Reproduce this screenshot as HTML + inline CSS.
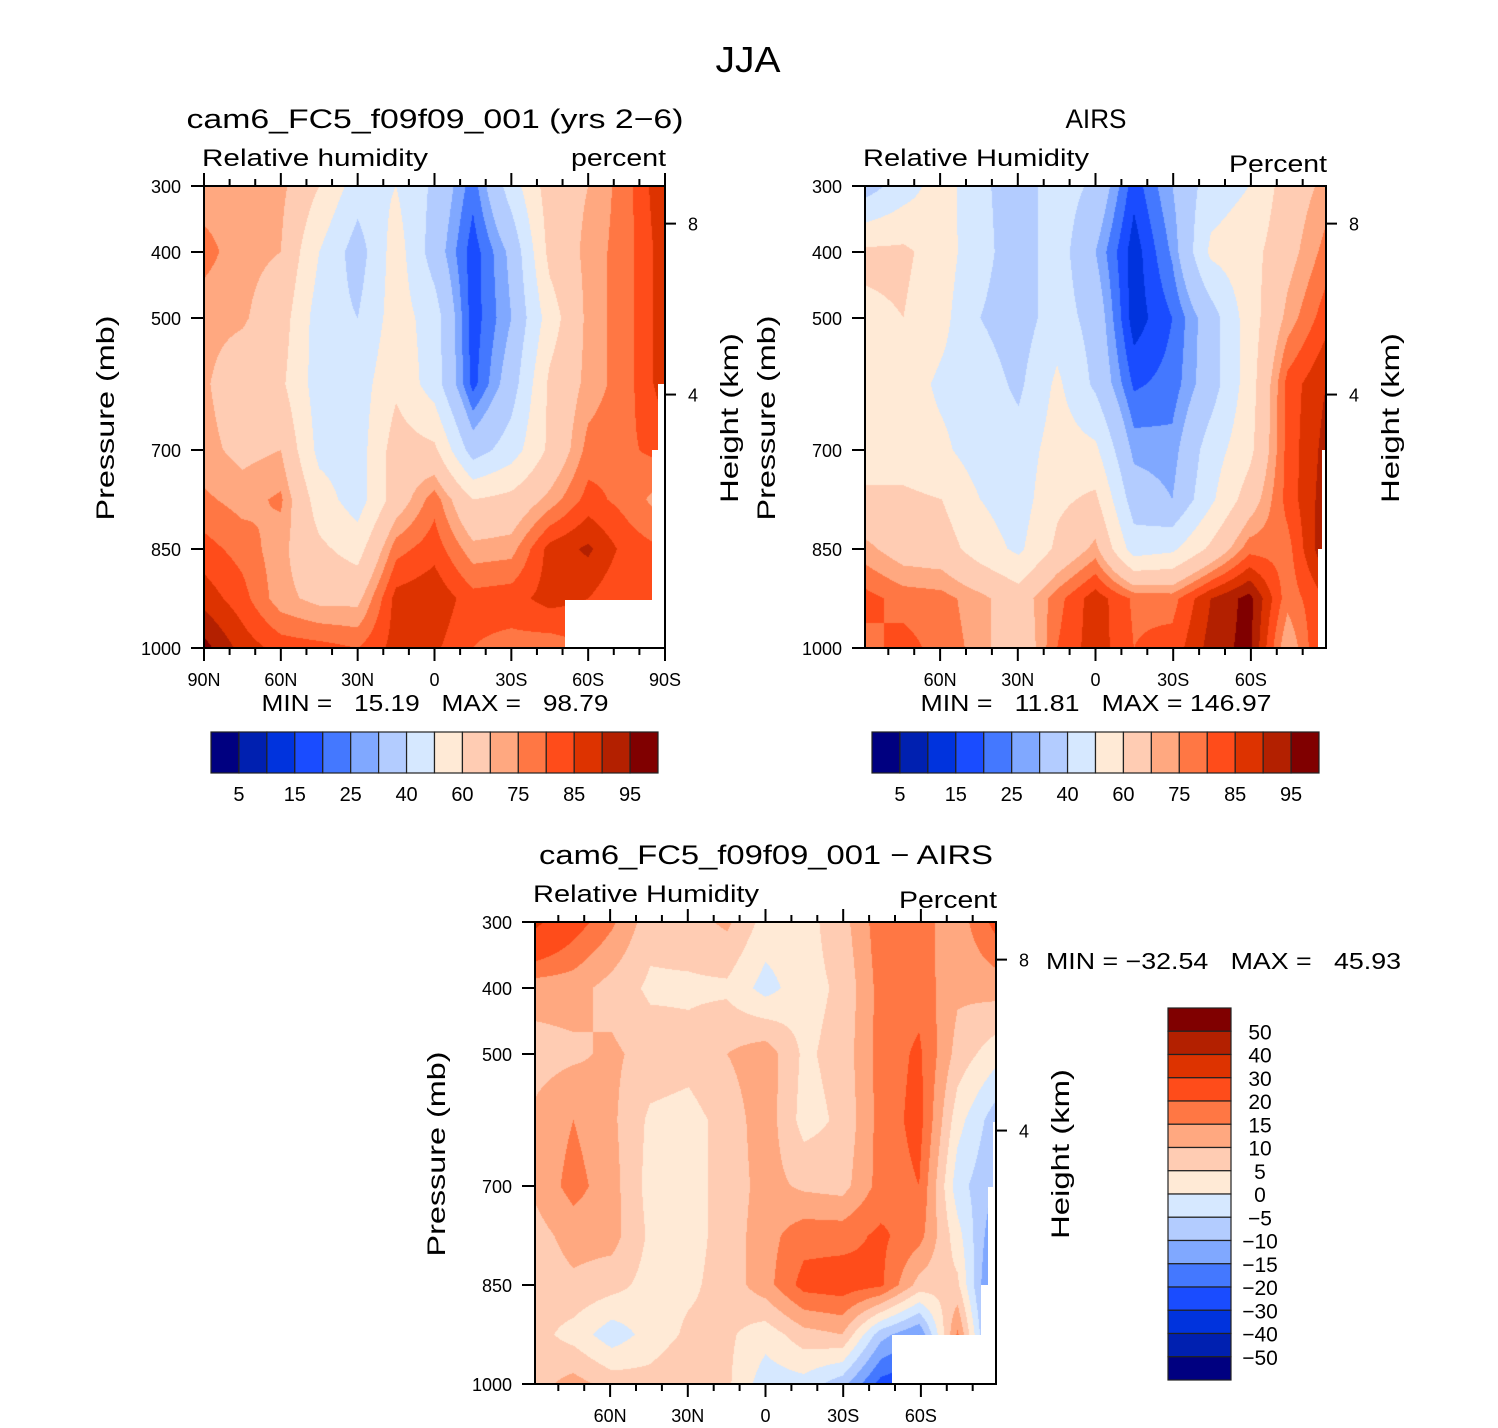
<!DOCTYPE html>
<html><head><meta charset="utf-8">
<style>
html,body{margin:0;padding:0;background:#fff;}
#root{position:relative;width:1498px;height:1428px;overflow:hidden;background:#fff;font-family:"Liberation Sans",sans-serif;}
canvas{position:absolute;}
svg{position:absolute;left:0;top:0;}
text{font-family:"Liberation Sans",sans-serif;fill:#000;white-space:pre;}
</style></head>
<body>
<div id="root">
<canvas id="c1" width="461" height="462" style="left:204px;top:186px"></canvas>
<canvas id="c2" width="461" height="462" style="left:865px;top:186px"></canvas>
<canvas id="c3" width="461" height="462" style="left:535px;top:922px"></canvas>
<svg id="svg" width="1498" height="1428" xmlns="http://www.w3.org/2000/svg"></svg>
</div>
<script>
// ---- data ----
const LATS = [90,75,60,45,30,15,0,-15,-30,-45,-60,-75,-90];
const PRESS = [300,400,500,600,700,775,850,925,1000];
const COLORS = ['#000080','#0020B0','#0033DD','#1A4CFF','#4478FF','#80A8FF','#B3CCFF','#D6E8FF','#FFEAD6','#FFCCB3','#FFA880','#FF7744','#FF4C1A','#DD3300','#B32000','#800000'];
const RH_LEVELS = [5,10,15,20,25,30,40,50,60,70,75,80,85,90,95];
const DIFF_LEVELS = [-50,-40,-30,-20,-15,-10,-5,0,5,10,15,20,30,40,50];
const RH_LABELS = ['5','15','25','40','60','75','85','95'];
const DIFF_LABELS = ['50','40','30','20','15','10','5','0','\u22125','\u221210','\u221215','\u221220','\u221230','\u221240','\u221250'];
const PRESS_TICKS = [300,400,500,700,850,1000];
const HEIGHT_TICKS = [8,4];
const HEIGHT_TICK_PRESS = [357,616];
const rhModel = [
 [72,73,72,60,45,50,38,22,45,65,70,78,90],
 [77,72,70,50,35,55,35,17,32,63,72,78,88],
 [72,71,65,45,40,55,45,17,30,55,72,78,88],
 [71,65,62,45,45,58,45,18,35,62,72,78,88],
 [72,68,70,47,45,65,62,35,45,62,77,79,82],
 [76,73,76,55,45,65,78,60,63,72,82,78,72],
 [82,78,72,62,56,78,83,72,73,87,91,83,80],
 [88,82,72,68,68,87,89,82,83,87,85,80,80],
 [97,88,83,82,80,87,86,80,78,77,80,80,80]];
const rhAirs = [
 [35,45,55,42,35,45,38,17,30,45,50,65,72],
 [62,62,55,43,35,45,30,12,26,52,56,67,77],
 [58,60,53,40,35,45,36,12,20,35,55,72,83],
 [55,55,48,45,38,52,38,19,22,35,55,82,90],
 [55,55,52,45,44,55,52,28,27,45,57,82,92],
 [62,62,60,50,45,58,62,35,30,48,65,82,93],
 [72,66,65,55,48,62,72,45,48,62,78,78,95],
 [82,78,77,72,65,78,88,79,78,90,97,77,85],
 [78,82,78,73,62,80,88,80,82,92,97,70,88]];
const rhDiff = [
 [32,23,16,7,8,11,3,3,8,18,17,12,22],
 [12,12,8,4,4,4,-2,3,6,17,18,11,12],
 [8,9,11,8,7,10,13,4,7,17,21,8,2],
 [11,15,11,4,3,7,13,3,6,17,22,2,-8],
 [11,17,12,3,3,7,12,9,8,17,20,-3,-10],
 [8,12,12,4,3,7,13,18,18,21,17,2,-15],
 [7,9,7,3,4,7,13,22,23,21,8,6,-20],
 [7,3,-3,2,6,6,2,8,10,-8,-15,16,-20],
 [8,12,8,7,10,6,-3,-2,-8,-22,-25,-25,-25]];

// ---- field rendering ----
function levelIndex(v, levels){let i=0;while(i<levels.length&&v>=levels[i])i++;return i;}
function hex(c){return [parseInt(c.slice(1,3),16),parseInt(c.slice(3,5),16),parseInt(c.slice(5,7),16)];}
const RGB = COLORS.map(hex);
function drawField(id, grid, levels){
  const cv=document.getElementById(id), ctx=cv.getContext('2d');
  const w=cv.width,h=cv.height,img=ctx.createImageData(w,h);
  const nc=LATS.length;
  for(let py=0;py<h;py++){
    const p=PRESS[0]+(py+0.5)/h*(PRESS[PRESS.length-1]-PRESS[0]);
    let r=0;while(r<PRESS.length-2&&p>PRESS[r+1])r++;
    const fy=(p-PRESS[r])/(PRESS[r+1]-PRESS[r]);
    for(let px=0;px<w;px++){
      const fc=(px+0.5)/w*(nc-1);let c=Math.min(Math.floor(fc),nc-2);const fx=fc-c;
      const v=(grid[r][c]*(1-fx)+grid[r][c+1]*fx)*(1-fy)+(grid[r+1][c]*(1-fx)+grid[r+1][c+1]*fx)*fy;
      const col=RGB[levelIndex(v,levels)],k=(py*w+px)*4;
      img.data[k]=col[0];img.data[k+1]=col[1];img.data[k+2]=col[2];img.data[k+3]=255;
    }
  }
  ctx.putImageData(img,0,0);
}
drawField('c1',rhModel,RH_LEVELS);
drawField('c2',rhAirs,RH_LEVELS);
drawField('c3',rhDiff,DIFF_LEVELS);

// ---- svg helpers ----
const NS='http://www.w3.org/2000/svg', svg=document.getElementById('svg');
function mk(tag,attrs,parent){const e=document.createElementNS(NS,tag);for(const k in attrs)e.setAttribute(k,attrs[k]);(parent||svg).appendChild(e);return e;}
function txt(s,x,y,size,anchor,parent,extra){const t=mk('text',Object.assign({x:x,y:y,'font-size':size,'text-anchor':anchor||'start'},extra||{}),parent);t.textContent=s;return t;}
function fit(len){return {textLength:len,lengthAdjust:'spacingAndGlyphs'};}

const W=461,H=462;
function panel(cfg){
  const g=mk('g',{});
  
  
  const x0=cfg.x,y0=cfg.y;
  const xs=lat=>x0+(cfg.latMax-lat)/(2*cfg.latMax)*W;
  const ys=p=>y0+(p-300)/700*H;
  cfg.masks.forEach(m=>{const r=mk('rect',{x:x0+m[0],y:y0+m[1],width:m[2],height:m[3],fill:'#fff'},g);
    
    });
  const fr=mk('rect',{x:x0,y:y0,width:W,height:H,fill:'none',stroke:'#000','stroke-width':2},g);
  
  
  for(let lat=80;lat>=-80;lat-=10){
    if(Math.abs(lat)>cfg.latMax)continue;
    const x=xs(lat),major=lat%30===0,len=major?13:7;
    mk('line',{x1:x,y1:y0,x2:x,y2:y0-len,stroke:'#000','stroke-width':2},g);
    mk('line',{x1:x,y1:y0+H,x2:x,y2:y0+H+len,stroke:'#000','stroke-width':2},g);
  }
  if(cfg.latMax===90){[90,-90].forEach(lat=>{const x=xs(lat);
    mk('line',{x1:x,y1:y0,x2:x,y2:y0-13,stroke:'#000','stroke-width':2},g);
    mk('line',{x1:x,y1:y0+H,x2:x,y2:y0+H+13,stroke:'#000','stroke-width':2},g);});}
  cfg.latLabels.forEach(lat=>{
    const s=lat===0?'0':(Math.abs(lat)+(lat>0?'N':'S'));
    const t=txt(s,xs(lat),y0+H+38,18,'middle',g);
    
    
  });
  PRESS_TICKS.forEach(p=>{const y=ys(p);
    mk('line',{x1:x0-13,y1:y,x2:x0,y2:y,stroke:'#000','stroke-width':2},g);
    const t=txt(String(p),x0-23,y+7,18,'end',g);
    
    });
  HEIGHT_TICKS.forEach((hk,i)=>{const y=ys(HEIGHT_TICK_PRESS[i]);
    mk('line',{x1:x0+W,y1:y,x2:x0+W+11,y2:y,stroke:'#000','stroke-width':2},g);
    const t=txt(String(hk),x0+W+23,y+7,18,'start',g);
    
    });
  const tt=txt(cfg.title,x0+231,y0-58,27,'middle',g,fit(cfg.titleLen));
  
  
  const st=txt(cfg.sub,x0-2,y0-20,24,'start',g,fit(226));
  
  
  const ut=txt(cfg.units,x0+W+1,y0-20+cfg.unitsDy,24,'end',g,fit(cfg.unitsLen));
  
  
  const pl=txt('Pressure (mb)',0,0,25,'middle',g,Object.assign({transform:'translate('+(x0-90)+','+(y0+232)+') rotate(-90)'},fit(205)));
  
  
  const hl=txt('Height (km)',0,0,25,'middle',g,Object.assign({transform:'translate('+(x0+W+73)+','+(y0+232)+') rotate(-90)'},fit(170)));
  
  
  const mm=txt(cfg.minmax,cfg.mmX,cfg.mmY,23,cfg.mmAnchor,g,fit(cfg.mmLen));
  
  
}

panel({name:'model-panel',x:204,y:186,latMax:90,latLabels:[90,60,30,0,-30,-60,-90],
  title:'cam6_FC5_f09f09_001 (yrs 2\u22126)',titleLen:497,sub:'Relative humidity',units:'percent',unitsDy:0,unitsLen:95,
  minmax:'MIN =   15.19   MAX =   98.79',mmX:435,mmY:711,mmAnchor:'middle',mmLen:347,
  masks:[[361,414,100,48],[448,264,13,150],[454,198,7,70]]});
panel({name:'airs-panel',x:865,y:186,latMax:89,latLabels:[60,30,0,-30,-60],
  title:'AIRS',titleLen:61,sub:'Relative Humidity',units:'Percent',unitsDy:6,unitsLen:98,
  minmax:'MIN =   11.81   MAX = 146.97',mmX:1096,mmY:711,mmAnchor:'middle',mmLen:351,
  masks:[[457,264,4,100],[453,363,8,99]]});
panel({name:'difference-panel',x:535,y:922,latMax:89,latLabels:[60,30,0,-30,-60],
  title:'cam6_FC5_f09f09_001 \u2212 AIRS',titleLen:454,sub:'Relative Humidity',units:'Percent',unitsDy:6,unitsLen:98,
  minmax:'MIN = \u221232.54   MAX =   45.93',mmX:1046,mmY:969,mmAnchor:'start',mmLen:355,
  masks:[[357,413,104,49],[446,363,15,50],[453,265,8,100],[458,200,3,70]]});

const mt=txt('JJA',748,72,36,'middle',svg,fit(65));



function hbar(name,x,y){
  const g=mk('g',{});
  
  
  const bw=447/COLORS.length;
  COLORS.forEach((c,i)=>{const r=mk('rect',{x:x+i*bw,y:y,width:bw,height:41,fill:c,stroke:'#222','stroke-width':1.2},g);
    
    });
  RH_LABELS.forEach((s,i)=>{const t=txt(s,x+(2*i+1)*bw,y+69,20,'middle',g);
    
    });
}
hbar('model-colorbar',211,732);
hbar('airs-colorbar',872,732);

(function(){
  const g=mk('g',{});
  
  
  const x=1168,y=1008,bh=372/COLORS.length;
  COLORS.slice().reverse().forEach((c,i)=>{const r=mk('rect',{x:x,y:y+i*bh,width:63,height:bh,fill:c,stroke:'#222','stroke-width':1.2},g);
    
    });
  DIFF_LABELS.forEach((s,i)=>{const t=txt(s,1260,y+(i+1)*bh+8,21,'middle',g);
    
    });
})();
</script>
</body></html>
